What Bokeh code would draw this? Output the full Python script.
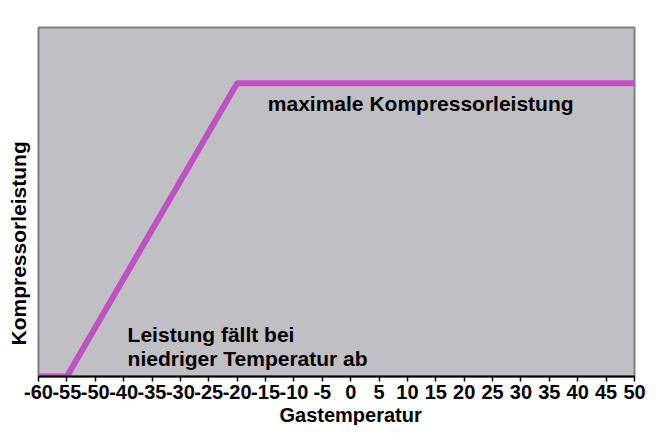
from bokeh.plotting import figure
from bokeh.models import Range1d, FixedTicker, Label, Title
from bokeh.embed import file_html
from bokeh.resources import INLINE

# ---- data ----
temp_labels = ["-60", "-55", "-50", "-40", "-35", "-30", "-25", "-20", "-15", "-10", "-5",
               "0", "5", "10", "15", "20", "25", "30", "35", "40", "45", "50"]
curve_temps = ["-60", "-55", "-20", "50"]
curve_power = [0, 0, 100, 100]

x_title = "Gastemperatur"
y_title = "Kompressorleistung"
note_top = "maximale Kompressorleistung"
note_low = ["Leistung fällt bei", "niedriger Temperatur ab"]

FONT = "Liberation Sans"
BG = "#C0BFC4"
LINE = "#BF52C2"

curve_x = [temp_labels.index(t) for t in curve_temps]

p = figure(width=650, height=425, output_backend="svg", toolbar_location=None,
           x_range=Range1d(0, len(temp_labels) - 1), y_range=Range1d(0, 119),
           min_border_left=38, min_border_right=16, min_border_top=27, min_border_bottom=46)
p.background_fill_color = BG
p.border_fill_color = "white"
p.outline_line_color = "#7F7F7F"
p.outline_line_width = 2
p.xgrid.visible = False
p.ygrid.visible = False
p.yaxis.visible = False

ax = p.xaxis[0]
ax.ticker = FixedTicker(ticks=list(range(len(temp_labels))))
ax.major_label_overrides = {i: t for i, t in enumerate(temp_labels)}
ax.axis_line_color = "black"
ax.axis_line_width = 2
ax.major_tick_line_color = "black"
ax.major_tick_line_width = 1.5
ax.major_tick_out = 5
ax.major_tick_in = 0
ax.minor_tick_line_color = None
ax.major_label_standoff = 3
ax.major_label_text_font = FONT
ax.major_label_text_font_style = "bold"
ax.major_label_text_font_size = "20px"
ax.major_label_text_color = "black"

p.add_layout(Title(text=x_title, align="left", offset=241, standoff=0,
                   text_font=FONT, text_font_style="bold", text_font_size="20px",
                   text_color="black"), "below")
p.add_layout(Title(text=y_title, align="left", offset=31, standoff=13,
                   vertical_align="top",
                   text_font=FONT, text_font_style="bold", text_font_size="21px",
                   text_color="black"), "left")

p.line(curve_x, curve_power, line_width=6, line_color=LINE)

def lab(text, x, y, size="21px"):
    p.add_layout(Label(x=x, y=y, text=text, text_font=FONT, text_font_style="bold",
                       text_font_size=size, text_color="black", text_align="left",
                       text_baseline="alphabetic"))

lab(note_top, 8.08, 93.2)
lab(note_low[0], 3.14, 14.3)
lab(note_low[1], 3.14, 6.2)

open("out.html", "w").write(file_html(p, INLINE))
